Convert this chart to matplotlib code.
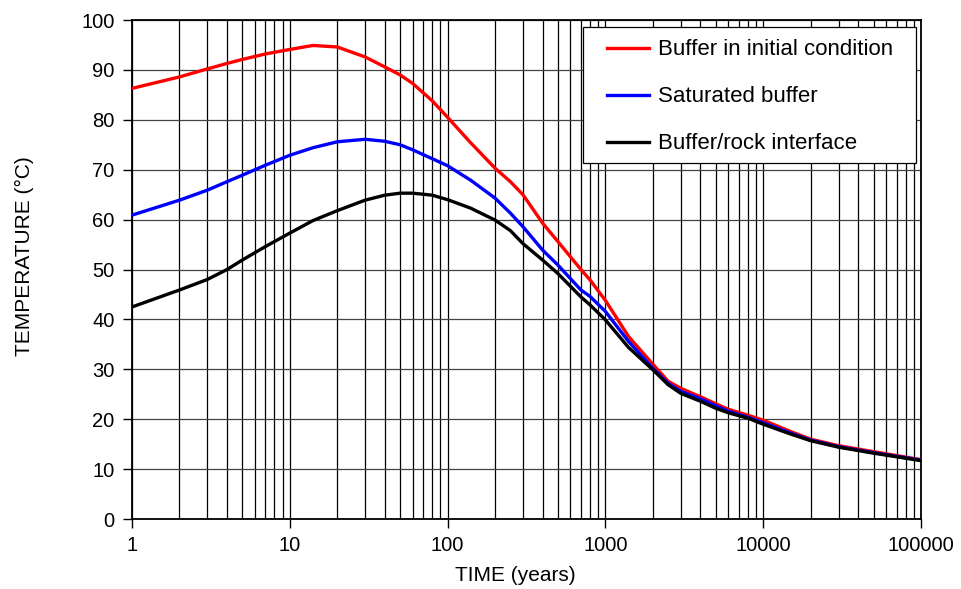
import matplotlib
matplotlib.use('Agg')
import matplotlib.pyplot as plt
from matplotlib.patches import Rectangle
from matplotlib.ticker import FixedLocator, NullFormatter, LogLocator

plt.rcParams['font.family'] = ['Liberation Sans', 'DejaVu Sans']

# tid i år (log-akse) og temperatur for de tre kurvene
time_years = [1, 2, 3, 4, 5, 7, 10, 14, 20, 30, 40, 50, 60, 80, 100, 140, 200, 250,
              300, 400, 500, 700, 800, 1000, 1400, 2000, 2500, 3000, 4000, 5000, 6000,
              8000, 10000, 15000, 20000, 30000, 50000, 100000]
t_initial = [86.3, 88.6, 90.2, 91.3, 92.1, 93.2, 94.1, 94.9, 94.6, 92.6, 90.6, 89.0,
             87.3, 83.8, 80.5, 75.4, 70.3, 67.6, 65.0, 59.3, 55.6, 50.0, 47.9, 43.8,
             36.6, 31.0, 27.6, 26.2, 24.5, 23.1, 22.0, 20.8, 19.8, 17.5, 16.0, 14.7,
             13.5, 11.9]
t_saturated = [60.9, 63.9, 65.9, 67.6, 68.9, 70.9, 72.9, 74.4, 75.6, 76.1, 75.7, 75.0,
               74.0, 72.2, 70.8, 67.9, 64.3, 61.3, 58.6, 53.9, 50.9, 45.9, 44.6, 41.6,
               35.6, 30.2, 27.2, 25.6, 24.1, 22.7, 21.6, 20.4, 19.3, 17.2, 15.8, 14.5,
               13.3, 11.8]
t_interface = [42.5, 45.9, 48.0, 50.0, 51.9, 54.6, 57.3, 59.8, 61.8, 63.9, 64.9, 65.3,
               65.3, 64.9, 64.0, 62.3, 59.9, 57.8, 55.2, 51.9, 49.2, 44.5, 42.9, 39.9,
               34.4, 29.9, 26.9, 25.2, 23.6, 22.2, 21.3, 20.2, 19.0, 17.0, 15.7, 14.4,
               13.2, 11.7]
x_ticks = [1, 10, 100, 1000, 10000, 100000]
y_ticks = list(range(0, 101, 10))

fig = plt.figure(figsize=(9.62, 5.89), dpi=100)
ax = fig.add_axes([0.1372, 0.1188, 0.8202, 0.8472])

ax.plot(time_years, t_initial, color='#ff0000', lw=2.4, label='Buffer in initial condition',
        zorder=4, solid_joinstyle='round')
ax.plot(time_years, t_saturated, color='#0000ff', lw=2.4, label='Saturated buffer',
        zorder=4, solid_joinstyle='round')
ax.plot(time_years, t_interface, color='black', lw=2.4, label='Buffer/rock interface',
        zorder=4, solid_joinstyle='round')

ax.set_xscale('log')
ax.set_xlim(1, 100000)
ax.set_ylim(0, 100)
ax.xaxis.set_major_locator(FixedLocator(x_ticks))
ax.set_xticklabels([str(v) for v in x_ticks])
ax.xaxis.set_minor_locator(LogLocator(base=10, subs=range(2, 10), numticks=20))
ax.xaxis.set_minor_formatter(NullFormatter())
ax.set_yticks(y_ticks)

ax.tick_params(axis='both', which='major', labelsize=14.5, direction='out', length=6.5,
               width=1, colors='black')
ax.tick_params(axis='y', which='major', pad=6)
ax.tick_params(axis='x', which='major', pad=6)
ax.tick_params(axis='x', which='minor', length=0)

# rutenett: loddrette linjer for hver log-del, vannrette for hver 10 grader
ax.grid(True, axis='x', which='both', color='black', lw=0.9, zorder=1)
ax.grid(True, axis='y', which='major', color='#444444', lw=0.9, zorder=1)
ax.set_axisbelow(True)
for s in ax.spines.values():
    s.set_color('black')
    s.set_linewidth(1.3)

ax.set_xlabel('TIME (years)', fontsize=15)
ax.xaxis.set_label_coords(0.4854, -0.095)
ax.set_ylabel('TEMPERATURE (°C)', fontsize=15)
ax.yaxis.set_label_coords(-0.124, 0.527)

# legendeboks tegnes for seg, teksten legges oppå uten egen ramme
box = Rectangle((0.5716, 0.7134), 0.4221, 0.2726, transform=ax.transAxes,
                facecolor='white', edgecolor='black', lw=0.9, zorder=5)
ax.add_patch(box)
leg = ax.legend(loc='upper left', bbox_to_anchor=(0.6020, 0.961), borderaxespad=0,
                borderpad=0, fontsize=16, frameon=False,
                handlelength=1.9, handletextpad=0.4, labelspacing=1.17)
leg.set_zorder(6)

plt.savefig('out.png', dpi=100)
